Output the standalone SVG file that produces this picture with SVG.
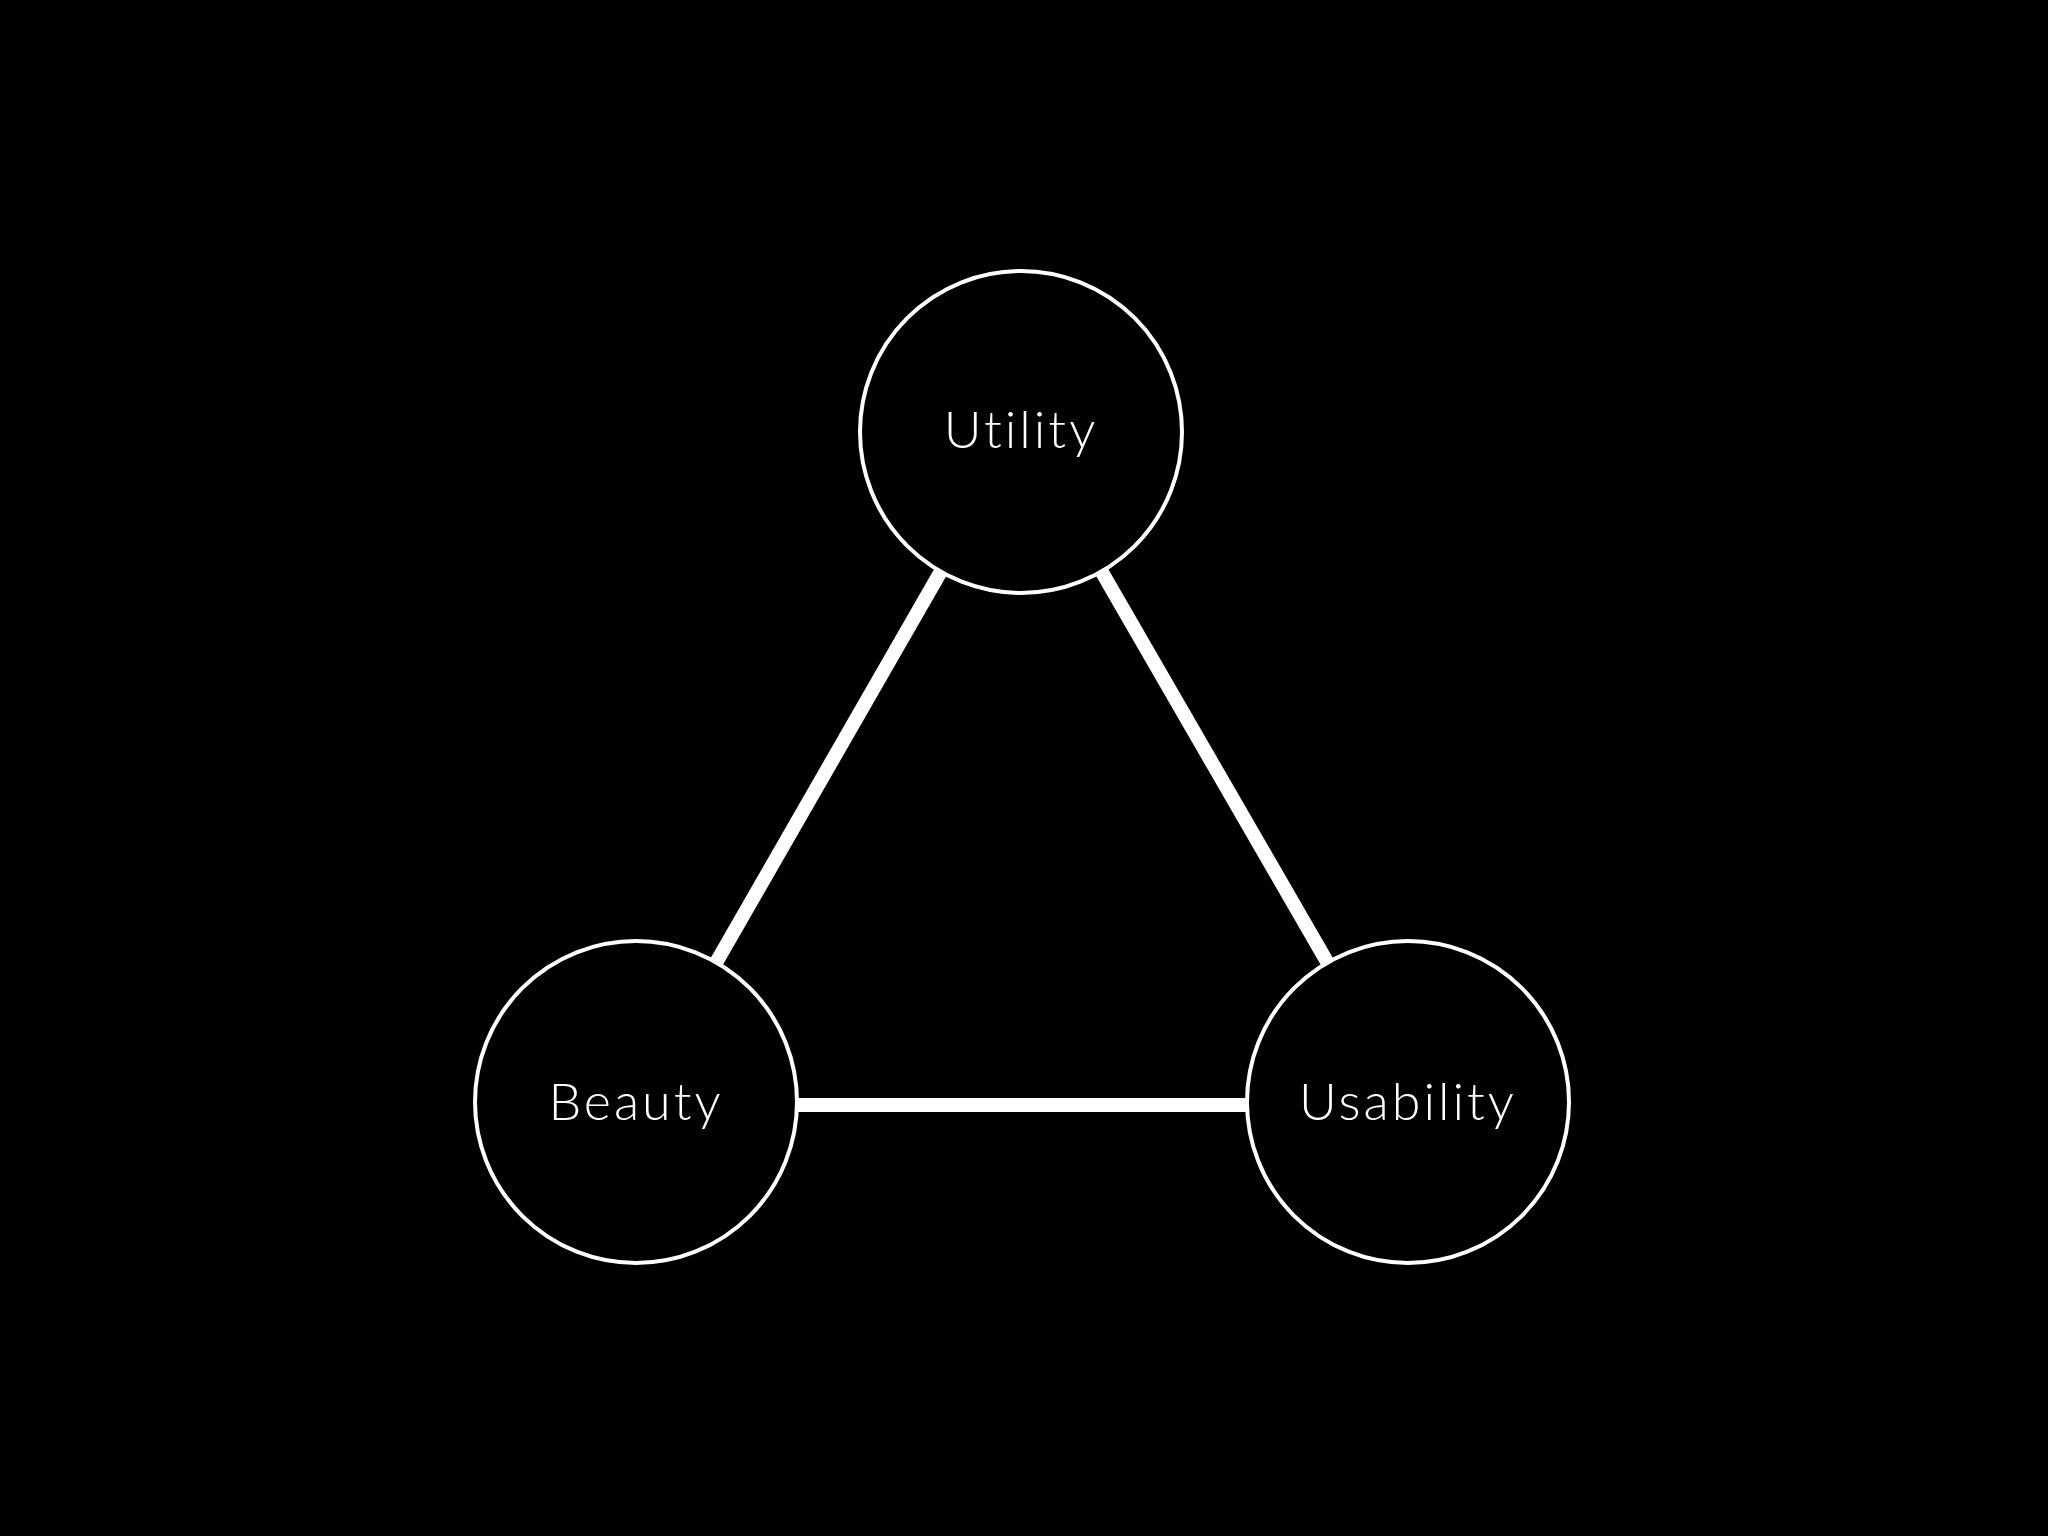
<svg xmlns="http://www.w3.org/2000/svg" width="2048" height="1536" viewBox="0 0 2048 1536">
<style>
.node{fill:#000;stroke:#fff;stroke-width:4}
.lbl{fill:#fff;font-family:Lato,"Noto Sans",sans-serif;font-weight:300;font-size:52px;text-anchor:middle;letter-spacing:3px}
.edge{stroke:#fff;stroke-width:14;stroke-linecap:butt}
</style>
<rect width="2048" height="1536" fill="#000"/>
<g id="connectors">
<line class="edge" x1="1021" y1="432" x2="636" y2="1102"/>
<line class="edge" x1="1021" y1="432" x2="1408" y2="1102"/>
<line class="edge" x1="636" y1="1105" x2="1408" y2="1105"/>
</g>
<g id="utility"><circle class="node" cx="1021" cy="432" r="161"/><text class="lbl" x="1021" y="448">Utility</text></g>
<g id="beauty"><circle class="node" cx="636" cy="1102" r="161"/><text class="lbl" x="636" y="1120">Beauty</text></g>
<g id="usability"><circle class="node" cx="1408" cy="1102" r="161"/><text class="lbl" x="1408" y="1120">Usability</text></g>
</svg>
